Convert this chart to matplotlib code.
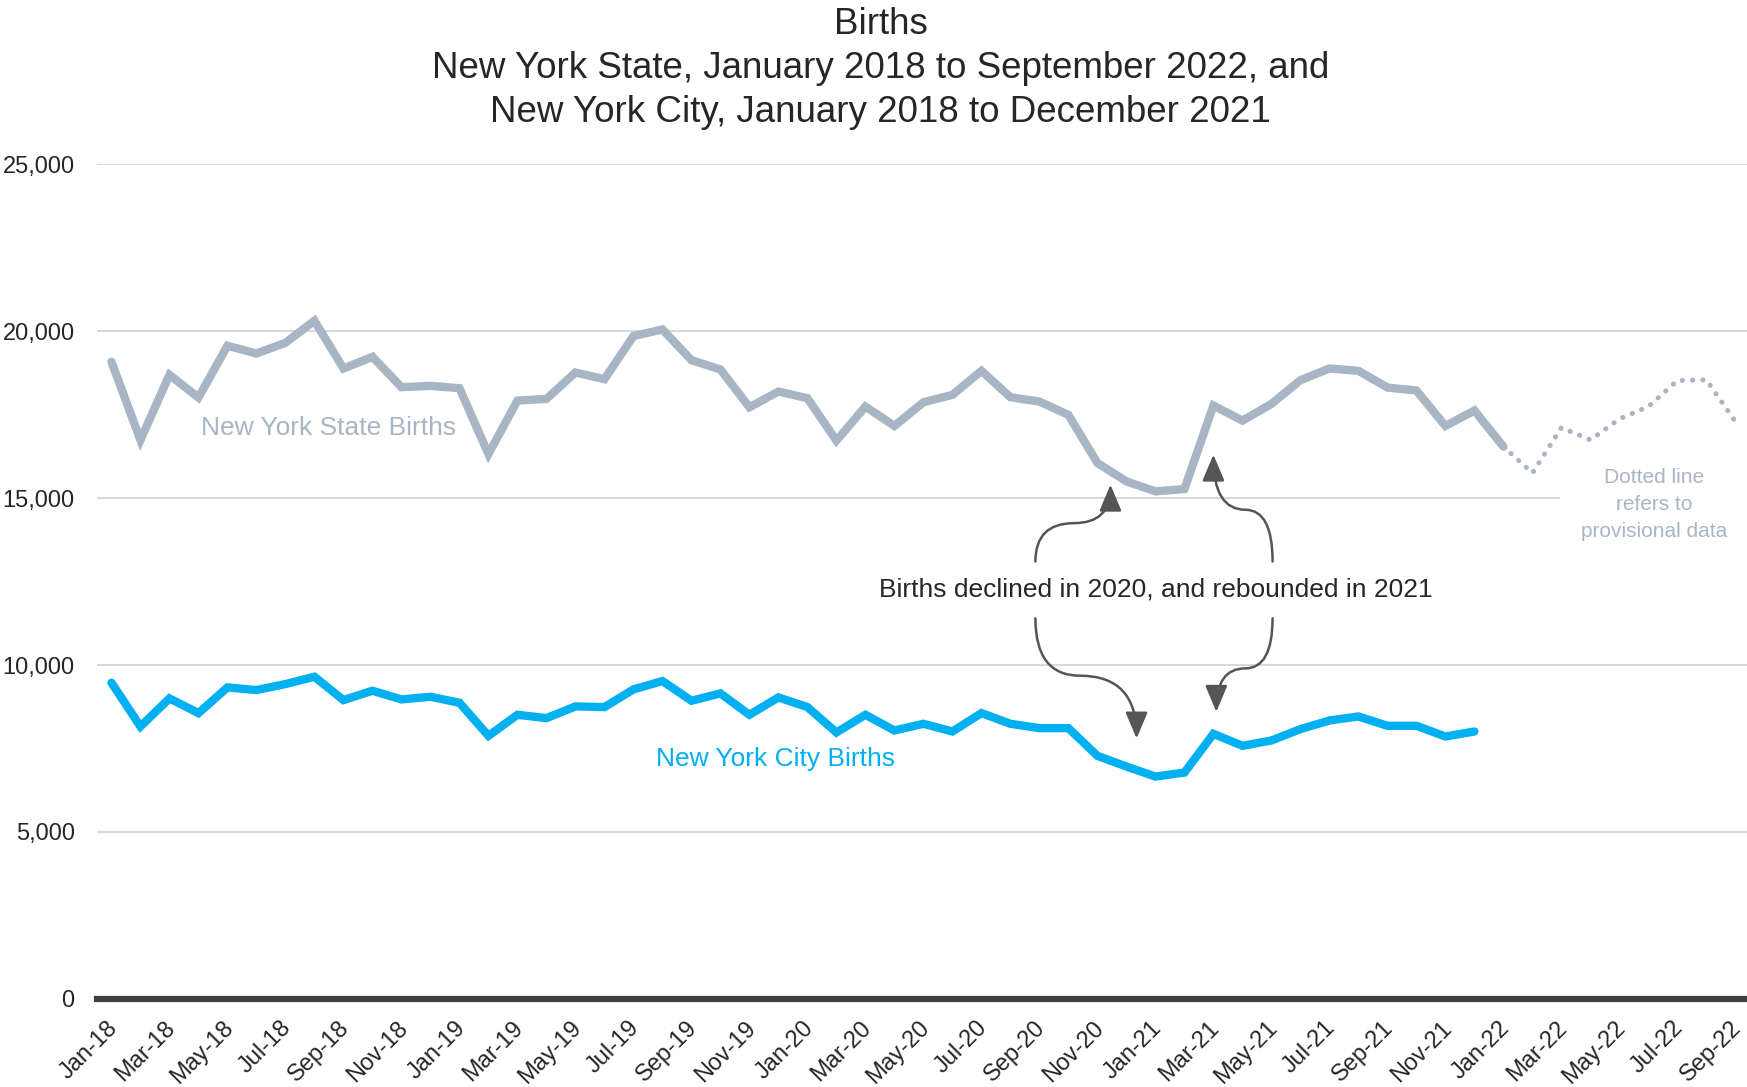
import matplotlib.pyplot as plt
from matplotlib.path import Path
from matplotlib.patches import FancyArrowPatch
from matplotlib.transforms import ScaledTranslation

months = ['Jan', 'Feb', 'Mar', 'Apr', 'May', 'Jun', 'Jul', 'Aug', 'Sep', 'Oct', 'Nov', 'Dec']
dates = [m + '-' + y for y in ['18', '19', '20', '21', '22'] for m in months][:57]

# New York State, Jan-18 .. Jan-22 (final data)
nys = [19080, 16740, 18690, 18010, 19560, 19330, 19650, 20310, 18880, 19230, 18320, 18360,
       18290, 16320, 17920, 17970, 18760, 18560, 19850, 20050, 19130, 18850, 17720, 18190,
       17990, 16720, 17740, 17160, 17870, 18090, 18810, 18020, 17890, 17490, 16050, 15500,
       15200, 15270, 17770, 17320, 17820, 18530, 18880, 18810, 18310, 18220, 17160, 17620,
       16540]
# New York State, Jan-22 .. Sep-22 (provisional data)
nys_prov = [16540, 15750, 17110, 16740, 17370, 17740, 18520, 18540, 17290]
# New York City, Jan-18 .. Dec-21
nyc = [9470, 8160, 9000, 8560, 9330, 9250, 9430, 9650, 8950, 9230, 8970, 9050,
       8870, 7880, 8510, 8410, 8760, 8740, 9270, 9520, 8930, 9150, 8510, 9030,
       8740, 7980, 8510, 8040, 8240, 8010, 8560, 8240, 8110, 8110, 7280, 6960,
       6660, 6780, 7940, 7580, 7740, 8080, 8340, 8460, 8180, 8180, 7860, 8010]

yticks = [0, 5000, 10000, 15000, 20000, 25000]

gray = '#a8b5c5'
blue = '#00b0f0'
dark = '#262626'
arrow_col = '#555555'

plt.rcParams['font.family'] = ['Liberation Sans', 'DejaVu Sans']

fig = plt.figure(figsize=(17.47, 10.87), dpi=100)
ax = fig.add_axes([0.0555, 0.081, 0.9445, 0.768])

x_nys = list(range(len(nys)))
x_prov = list(range(len(nys) - 1, len(nys) - 1 + len(nys_prov)))
x_nyc = list(range(len(nyc)))

ax.plot(x_nys, nys, color=gray, lw=6, solid_joinstyle='miter', solid_capstyle='round', zorder=3)
ax.plot(x_prov, nys_prov, color=gray, lw=3.6, linestyle=(0, (0.05, 2.0)),
        dash_capstyle='round', zorder=3)
ax.plot(x_nyc, nyc, color=blue, lw=6, solid_joinstyle='miter', solid_capstyle='round', zorder=3)

ax.set_xlim(-0.5, 56.4)
ax.set_ylim(0, 25000)
ax.set_yticks(yticks)
ax.set_yticklabels(['{:,}'.format(v) for v in yticks])
ax.set_xticks(range(0, len(dates), 2))
ax.set_xticklabels(dates[::2], rotation=45, ha='right', rotation_mode='anchor')
ax.tick_params(axis='both', length=0, labelsize=17, labelcolor=dark)
ax.tick_params(axis='y', pad=16)
ax.tick_params(axis='x', pad=13)
shift = ScaledTranslation(-0.05, 0, fig.dpi_scale_trans)
for lbl in ax.get_xticklabels():
    lbl.set_transform(lbl.get_transform() + shift)

ax.grid(axis='y', color='#d9d9d9', lw=1.5, zorder=0)
for s in ['top', 'right', 'left']:
    ax.spines[s].set_visible(False)
ax.spines['bottom'].set_color('#404040')
ax.spines['bottom'].set_linewidth(4.5)
ax.spines['bottom'].set_zorder(4)

# series labels
ax.text(7.5, 17100, 'New York State Births', color=gray, fontsize=19, ha='center', va='center')
ax.text(22.9, 7180, 'New York City Births', color=blue, fontsize=19, ha='center', va='center')
ax.text(53.2, 14800, 'Dotted line\nrefers to\nprovisional data', color=gray, fontsize=15,
        ha='center', va='center', linespacing=1.55, zorder=2,
        bbox=dict(boxstyle='square,pad=1.0', fc='white', ec='none'))

ax.text(36.0, 12250, 'Births declined in 2020, and rebounded in 2021', color=dark, fontsize=19,
        ha='center', va='center', zorder=5)


def curved_arrow(tail, mid, head):
    verts = [tail, (tail[0], mid[1]), mid, (head[0], mid[1]), head]
    codes = [Path.MOVETO, Path.CURVE3, Path.CURVE3, Path.CURVE3, Path.CURVE3]
    p = FancyArrowPatch(path=Path(verts, codes), arrowstyle='-|>,head_length=0.9,head_width=0.38',
                        mutation_scale=18, color=arrow_col, lw=1.8, zorder=5)
    ax.add_patch(p)


curved_arrow((31.86, 13100), (33.2, 14250), (34.45, 15400))
curved_arrow((40.04, 13100), (39.1, 14650), (38.0, 16300))
curved_arrow((31.86, 11400), (33.4, 9680), (35.35, 7800))
curved_arrow((40.04, 11400), (39.1, 9900), (38.1, 8600))

fig.text(0.504, 0.994, 'Births\nNew York State, January 2018 to September 2022, and\n'
         'New York City, January 2018 to December 2021',
         ha='center', va='top', fontsize=26.5, color=dark, linespacing=1.35)

plt.savefig('out.png', dpi=100)
